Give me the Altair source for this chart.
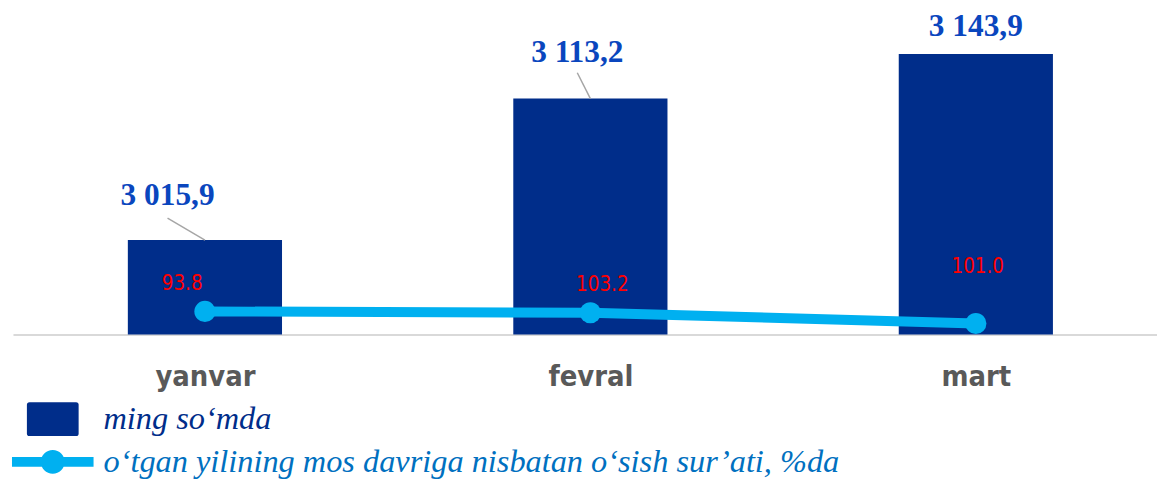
import json
import altair as alt
import pandas as pd

# ---------------- data ----------------
months = ["yanvar", "fevral", "mart"]
volume = [3015.9, 3113.2, 3143.9]                 # ming so‘mda
volume_labels = ["3 015,9", "3 113,2", "3 143,9"]
growth = [93.8, 103.2, 101.0]                     # % to the same period last year
growth_labels = ["93.8", "103.2", "101.0"]
growth_level = [7.1, 6.7, 3.4]                    # line height on its hidden secondary axis (0-100)

bar_series = "ming so‘mda"
line_series = "o‘tgan yilining mos davriga nisbatan o‘sish sur’ati, %da"

df = pd.DataFrame({
    "month": months,
    "idx": list(range(len(months))),
    "volume": volume,
    "vlabel": volume_labels,
    "growth": growth,
    "glabel": growth_labels,
    "level": growth_level,
    "bar_series": bar_series,
    "line_series": line_series,
})

# ---------------- styles / layout ----------------
NAVY = "#002D8A"
LABEL_BLUE = "#0A46BE"
CYAN = "#00B0F0"
LEGEND2_BLUE = "#0070C0"
SANS = "DejaVu Sans Condensed"
SERIF = "Liberation Serif"

W, H = 1150, 327
x_scale = alt.Scale(domain=[-0.498, 2.470], nice=False, zero=False)
y_scale = alt.Scale(domain=[2950.9, 3174.7], nice=False, zero=False)
y2_scale = alt.Scale(domain=[0, 100], nice=False, zero=False)

x_axis = alt.Axis(
    values=list(range(len(months))),
    labelExpr=json.dumps(months) + "[datum.value]",
    title=None, grid=False, ticks=False,
    domainColor="#D9D9D9", domainWidth=2,
    labelFont=SANS, labelFontWeight="bold", labelFontSize=29,
    labelColor="#595959", labelPadding=28, labelFlush=False,
)

def X(field):
    return alt.X(field, type="quantitative", scale=x_scale, axis=x_axis)

base = alt.Chart(df)

bars = base.transform_calculate(
    x0="datum.idx - 0.2", x1="datum.idx + 0.2", ymin="2950.9"
).mark_bar(color=NAVY).encode(
    x=X("x0"),
    x2=alt.X2("x1"),
    y=alt.Y("volume:Q", scale=y_scale, axis=None),
    y2=alt.Y2("ymin"),
    color=alt.Color(
        "bar_series:N",
        scale=alt.Scale(range=[NAVY]),
        legend=alt.Legend(
            title=None, orient="none", legendX=14, legendY=386, padding=0,
            symbolType="M-0.9,-0.654H0.9Q1,-0.654 1,-0.554V0.554Q1,0.654 0.9,0.654H-0.9Q-1,0.654 -1,0.554V-0.554Q-1,-0.654 -0.9,-0.654Z",
            symbolSize=2704, symbolStrokeWidth=0, symbolOpacity=1,
            labelFont=SERIF, labelFontStyle="italic", labelFontSize=32.5,
            labelColor=NAVY, labelOffset=25, labelLimit=0,
        ),
    ),
)

lab_dx = "[-0.097, -0.034, 0][datum.idx]"
lab_dy = "[24.0, 25.3, 12.3][datum.idx]"
lead_dy = "[15.1, 17.8, 0][datum.idx]"

labels = base.transform_calculate(
    lx="datum.idx + " + lab_dx, ly="datum.volume + " + lab_dy
).mark_text(
    font=SERIF, fontWeight="bold", fontSize=31.5, color=LABEL_BLUE,
    align="center", baseline="alphabetic",
).encode(
    x=X("lx"),
    y=alt.Y("ly:Q", scale=y_scale, axis=None),
    text="vlabel:N",
)

leaders = base.transform_filter("datum.idx < 2").transform_calculate(
    lx="datum.idx + " + lab_dx, ly="datum.volume + " + lead_dy
).mark_rule(color="#A6A6A6", strokeWidth=1.5).encode(
    x=X("lx"),
    y=alt.Y("ly:Q", scale=y_scale, axis=None),
    x2=alt.X2("idx"),
    y2=alt.Y2("volume"),
)

line = base.mark_line(color=CYAN, strokeWidth=10).encode(
    x=X("idx"),
    y=alt.Y("level:Q", scale=y2_scale, axis=None),
)

points = base.mark_circle(size=452, opacity=1).encode(
    x=X("idx"),
    y=alt.Y("level:Q", scale=y2_scale, axis=None),
    color=alt.Color(
        "line_series:N",
        scale=alt.Scale(range=[CYAN]),
        legend=alt.Legend(
            title=None, orient="none", legendX=-1, legendY=414, padding=0,
            symbolType="M-1,-0.122H1V0.122H-1Z M0.293,0A0.293,0.293 0 1 1 -0.293,0A0.293,0.293 0 1 1 0.293,0Z",
            symbolSize=6724, symbolStrokeWidth=0, symbolOpacity=1,
            labelFont=SERIF, labelFontStyle="italic", labelFontSize=32.5,
            labelColor=LEGEND2_BLUE, labelOffset=10, labelLimit=0,
        ),
    ),
)

g_dx = "[-0.059, 0.031, 0.005][datum.idx]"
g_dy = "[6.7, 6.8, 15.6][datum.idx]"

growth_text = base.transform_calculate(
    gx="datum.idx + " + g_dx, gy="datum.level + " + g_dy
).mark_text(
    font=SANS, fontSize=20.5, color="#FF0000", align="center", baseline="alphabetic",
).encode(
    x=X("gx"),
    y=alt.Y("gy:Q", scale=y2_scale, axis=None),
    text="glabel:N",
)

chart = alt.layer(bars, leaders, labels, line, points, growth_text).resolve_scale(
    y="independent", color="independent"
).properties(
    width=W, height=H, background="white",
    padding={"left": 4, "top": 0, "right": 0, "bottom": 0},
).configure_view(stroke=None)

chart.save("out.html", embed_options={"renderer": "svg", "actions": False})
